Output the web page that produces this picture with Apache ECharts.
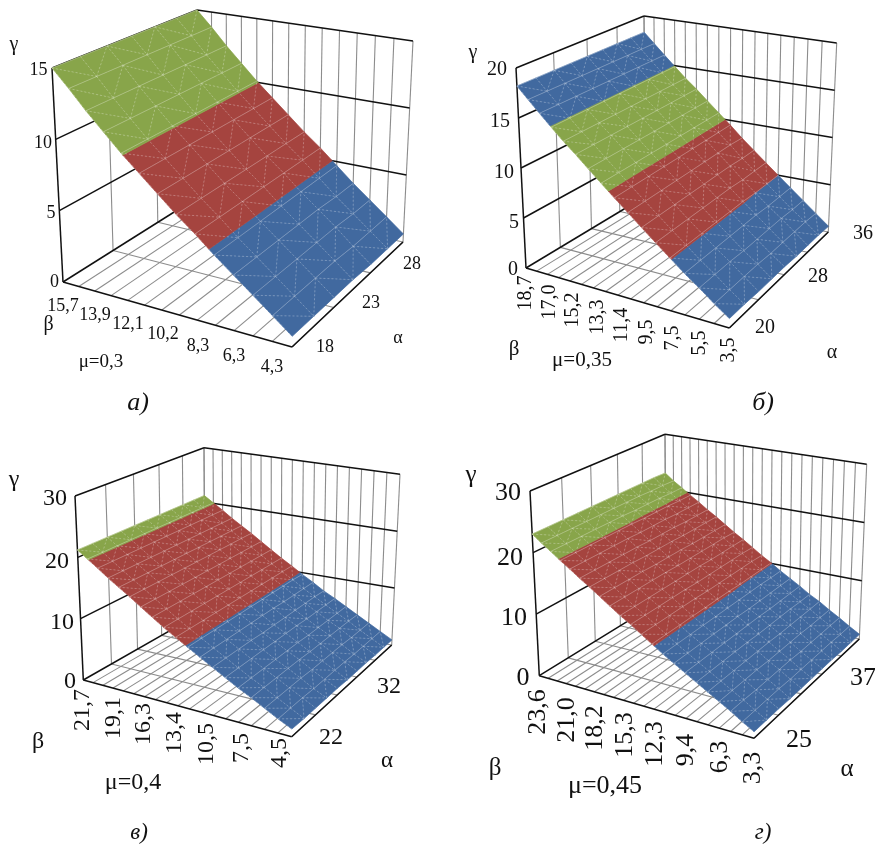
<!DOCTYPE html>
<html><head><meta charset="utf-8">
<style>html,body{margin:0;padding:0;background:#fff}#c{width:875px;height:846px}</style>
<script src="https://cdn.jsdelivr.net/npm/echarts@6/dist/echarts.min.js"></script>
</head><body><div id="c"></div>
<script>
// ---------- data: tick labels ----------
const betaTicksA = ['15,7','13,9','12,1','10,2','8,3','6,3','4,3'];
const betaTicksB = ['18,7','17,0','15,2','13,3','11,4','9,5','7,5','5,5','3,5'];
const betaTicksC = ['21,7','19,1','16,3','13,4','10,5','7,5','4,5'];
const betaTicksD = ['23,6','21,0','18,2','15,3','12,3','9,4','6,3','3,3'];
const alphaTicksA = ['18','23','28'];
const alphaTicksB = ['20','28','36'];
const alphaTicksC = ['22','32'];
const alphaTicksD = ['25','37'];
const gammaTicksA = [0,5,10,15];
const gammaTicksB = [0,5,10,15,20];
const gammaTicksC = [0,10,20,30];
const gammaTicksD = [0,10,20,30];
const muA = 'μ=0,3', muB = 'μ=0,35', muC = 'μ=0,4', muD = 'μ=0,45';
const captionA = 'а)', captionB = 'б)', captionC = 'в)', captionD = 'г)';
// ---------- data: gamma (rows: beta from max to min, columns: alpha from min to max) ----------
const gammaA = [
[15.0,15.0,15.0,15.0,15.0,15.0,15.0],
[13.8,13.8,13.8,13.8,13.8,13.8,13.8],
[12.5,12.5,12.5,12.5,12.5,12.5,12.5],
[11.3,11.3,11.3,11.3,11.3,11.3,11.3],
[10.1,10.1,10.1,10.1,10.1,10.1,10.1],
[9.0,9.0,9.0,9.0,9.0,9.0,9.0],
[7.9,7.9,7.9,7.9,7.9,7.9,7.9],
[6.8,6.8,6.8,6.8,6.8,6.8,6.8],
[5.8,5.8,5.8,5.8,5.8,5.8,5.8],
[4.7,4.7,4.7,4.7,4.7,4.7,4.7],
[3.7,3.7,3.7,3.7,3.7,3.6,3.6],
[2.7,2.7,2.7,2.7,2.7,2.6,2.6],
[1.7,1.7,1.7,1.7,1.6,1.6,1.6],
[0.7,0.7,0.7,0.7,0.6,0.6,0.6]];
const gammaB = [
[18.2,18.2,18.2,18.2,18.2,18.2,18.2,18.2,18.2],
[17.1,17.1,17.1,17.1,17.1,17.1,17.1,17.1,17.1],
[16.0,16.0,16.0,16.0,16.0,16.0,16.0,16.0,16.0],
[14.9,14.9,14.9,14.9,14.9,14.9,14.9,14.9,14.9],
[13.8,13.8,13.8,13.8,13.8,13.8,13.8,13.8,13.8],
[12.8,12.8,12.8,12.8,12.8,12.8,12.8,12.8,12.8],
[11.7,11.7,11.7,11.7,11.7,11.7,11.7,11.7,11.7],
[10.6,10.6,10.6,10.6,10.6,10.6,10.6,10.6,10.6],
[9.5,9.5,9.5,9.5,9.5,9.5,9.5,9.5,9.5],
[8.4,8.4,8.4,8.4,8.4,8.4,8.4,8.4,8.3],
[7.3,7.3,7.3,7.3,7.3,7.3,7.3,7.2,7.2],
[6.2,6.2,6.2,6.2,6.2,6.2,6.1,6.1,6.1],
[5.1,5.1,5.1,5.1,5.1,5.1,5.0,5.0,5.0],
[4.0,4.0,4.0,4.0,4.0,4.0,3.9,3.9,3.9],
[3.0,3.0,3.0,2.9,2.9,2.9,2.9,2.8,2.8],
[1.9,1.9,1.9,1.9,1.8,1.8,1.8,1.8,1.7],
[0.9,0.9,0.8,0.8,0.8,0.7,0.7,0.7,0.6]];
const gammaC = [
[21.2,21.2,21.2,21.2,21.2,21.2,21.2,21.2,21.2,21.2,21.2],
[20.1,20.1,20.1,20.1,20.1,20.1,20.1,20.1,20.1,20.1,20.1],
[19.0,19.0,19.0,19.0,19.0,19.0,19.0,19.0,19.0,19.0,19.0],
[17.8,17.8,17.8,17.8,17.8,17.8,17.8,17.8,17.8,17.8,17.8],
[16.7,16.7,16.7,16.7,16.7,16.7,16.7,16.7,16.7,16.7,16.7],
[15.6,15.6,15.6,15.6,15.6,15.6,15.6,15.6,15.6,15.6,15.6],
[14.4,14.4,14.4,14.4,14.4,14.4,14.4,14.4,14.4,14.4,14.4],
[13.2,13.2,13.2,13.2,13.2,13.2,13.2,13.2,13.2,13.2,13.2],
[12.0,12.0,12.0,12.0,12.0,12.0,12.0,12.0,12.0,12.0,12.0],
[10.9,10.9,10.9,10.9,10.9,10.9,10.9,10.9,10.9,10.9,10.9],
[9.8,9.8,9.8,9.8,9.8,9.8,9.8,9.8,9.8,9.8,9.7],
[8.7,8.7,8.7,8.7,8.7,8.7,8.7,8.6,8.6,8.6,8.6],
[7.6,7.6,7.6,7.6,7.5,7.5,7.5,7.5,7.5,7.5,7.4],
[6.5,6.5,6.5,6.5,6.5,6.5,6.5,6.4,6.4,6.4,6.4],
[5.4,5.4,5.4,5.4,5.4,5.4,5.3,5.3,5.3,5.3,5.3],
[4.4,4.4,4.4,4.4,4.4,4.3,4.3,4.3,4.3,4.3,4.2],
[3.3,3.3,3.3,3.3,3.2,3.2,3.2,3.2,3.1,3.1,3.1],
[2.2,2.2,2.2,2.1,2.1,2.1,2.1,2.0,2.0,2.0,2.0],
[1.2,1.1,1.1,1.1,1.1,1.0,1.0,1.0,0.9,0.9,0.9]];
const gammaD = [
[23.0,23.0,23.0,23.0,23.0,23.0,23.0,23.0,23.0,23.0,22.9],
[21.9,21.9,21.9,21.9,21.9,21.9,21.9,21.9,21.8,21.8,21.7],
[20.9,20.9,20.9,20.9,20.9,20.9,20.8,20.8,20.8,20.7,20.7],
[19.8,19.8,19.8,19.8,19.8,19.8,19.7,19.7,19.7,19.6,19.6],
[18.8,18.8,18.8,18.8,18.8,18.7,18.7,18.7,18.6,18.6,18.6],
[17.7,17.7,17.7,17.7,17.7,17.6,17.6,17.6,17.5,17.5,17.5],
[16.7,16.7,16.7,16.7,16.6,16.6,16.6,16.5,16.5,16.5,16.5],
[15.6,15.6,15.6,15.6,15.5,15.5,15.5,15.4,15.4,15.4,15.4],
[14.5,14.5,14.5,14.5,14.5,14.4,14.4,14.4,14.4,14.4,14.3],
[13.4,13.4,13.4,13.4,13.4,13.4,13.4,13.3,13.3,13.3,13.3],
[12.4,12.4,12.4,12.4,12.4,12.3,12.3,12.3,12.3,12.3,12.2],
[11.3,11.3,11.3,11.3,11.3,11.2,11.2,11.2,11.2,11.2,11.1],
[10.2,10.2,10.2,10.2,10.2,10.2,10.2,10.1,10.1,10.1,10.1],
[9.1,9.1,9.1,9.1,9.1,9.1,9.1,9.1,9.1,9.0,9.0],
[8.1,8.1,8.1,8.1,8.1,8.1,8.0,8.0,8.0,8.0,8.0],
[7.1,7.1,7.1,7.1,7.1,7.1,7.1,7.0,7.0,7.0,7.0],
[6.1,6.1,6.1,6.1,6.1,6.0,6.0,6.0,6.0,5.9,5.9],
[5.1,5.1,5.1,5.1,5.1,5.1,5.0,5.0,5.0,5.0,5.0],
[4.1,4.1,4.1,4.1,4.0,4.0,4.0,4.0,3.9,3.9,3.9],
[3.1,3.1,3.0,3.0,3.0,3.0,2.9,2.9,2.9,2.9,2.9],
[2.0,2.0,2.0,2.0,1.9,1.9,1.9,1.9,1.9,1.8,1.8],
[1.0,1.0,1.0,0.9,0.9,0.9,0.9,0.9,0.8,0.8,0.8]];

// ---------- styling and layout (separate from data) ----------
const COL = {green:'#88A54A', red:'#A5443F', blue:'#41699F'};
const SERIF = '"Liberation Serif","Times New Roman",serif';
const panels = [
 {gamma:gammaA, ticks:gammaTicksA, betaN:13, alphaN:3, top:15, beta:betaTicksA, alpha:alphaTicksA, mu:muA, cap:captionA,
  bands:[[0,5,'blue'],[5,10,'red'],[10,15.01,'green']],
  A:[63,282],B:[292,347],C:[403,242],D:[198,197],A1:[52,68],B1:[296,119],C1:[413,41],D1:[197,10],
  fs:18, gammaPos:[[54.5,282],[51,213],[43,143],[38.5,70]],
  betaPos:[[63,306],[95,315],[128,324],[163,334],[198,346],[234,356],[272,367]], rot:false,
  alphaPos:[[325,347],[371,303],[412,264]], g:[14,45,20], b:[48.5,325,20], a:[398,338,18], m:[101,362,19], c:[138,403,26]},
 {gamma:gammaB, ticks:gammaTicksB, betaN:16, alphaN:4, top:20, beta:betaTicksB, alpha:alphaTicksB, mu:muB, cap:captionB,
  bands:[[0,5,'blue'],[5,10,'red'],[10,15,'green'],[15,20,'blue']],
  A:[526,268],B:[729.3,328],C:[828.3,232],D:[645.7,196],A1:[516,68],B1:[732,119],C1:[836.7,43],D1:[644,16],
  fs:20, gammaPos:[[513,270],[514,223],[504,173],[500,122],[497,70]],
  betaPos:[[526,293],[550,302],[573,310],[598,317],[622,325],[647,332],[673,338],[700,343],[729,350]], rot:true,
  alphaPos:[[765,328],[818,277],[863,234]], g:[473,53,20], b:[514,349,21], a:[832,353,20], m:[582,360,21], c:[763,403,26]},
 {gamma:gammaC, ticks:gammaTicksC, betaN:18, alphaN:5, top:30, beta:betaTicksC, alpha:alphaTicksC, mu:muC, cap:captionC,
  bands:[[0,10,'blue'],[10,20,'red'],[20,30,'green']],
  A:[83.3,680],B:[291.7,736.7],C:[391.7,645],D:[205,610.7],A1:[75,496],B1:[295.2,544.7],C1:[400,474.3],D1:[204,447.7],
  fs:24, gammaPos:[[70,682],[62,623],[57,562],[55,499]],
  betaPos:[[83,710],[114,718],[144,724],[175,733],[207,744],[242,748],[280,753]], rot:true,
  alphaPos:[[331,738],[389,687]], g:[14,480,24], b:[38,742,24], a:[387,761,23], m:[133,783,24], c:[139,833,23]},
 {gamma:gammaD, ticks:gammaTicksD, betaN:21, alphaN:5, top:30, beta:betaTicksD, alpha:alphaTicksD, mu:muD, cap:captionD,
  bands:[[0,10,'blue'],[10,20,'red'],[20,30,'green']],
  A:[539.3,675.7],B:[754,738.3],C:[859.3,639],D:[666,597.7],A1:[530,491],B1:[756.3,542.3],C1:[866.7,464.3],D1:[665,434.3],
  fs:26, gammaPos:[[523,678],[514,618],[510,558],[508,493]],
  betaPos:[[538,712],[567,720],[595,728],[625,735],[655,744],[686,750],[720,757],[753,768]], rot:true,
  alphaPos:[[799,740],[863,678]], g:[471,475,25], b:[495,768,25], a:[847,769,25], m:[605,786,26], c:[763,833,23]}
];

// ---------- square-to-quad projection ----------
function quad(p0,p1,p2,p3){ // (0,0)->p0 (1,0)->p1 (1,1)->p2 (0,1)->p3
  const dx1=p1[0]-p2[0],dx2=p3[0]-p2[0],sx=p0[0]-p1[0]+p2[0]-p3[0];
  const dy1=p1[1]-p2[1],dy2=p3[1]-p2[1],sy=p0[1]-p1[1]+p2[1]-p3[1];
  const den=dx1*dy2-dx2*dy1;
  const g=(sx*dy2-dx2*sy)/den,h=(dx1*sy-sx*dy1)/den;
  const a=p1[0]-p0[0]+g*p1[0],b=p3[0]-p0[0]+h*p3[0],c=p0[0];
  const d=p1[1]-p0[1]+g*p1[1],e=p3[1]-p0[1]+h*p3[1],f=p0[1];
  return (u,v)=>{const w=g*u+h*v+1;return [(a*u+b*v+c)/w,(d*u+e*v+f)/w];};
}
panels.forEach(p=>{
  const lo=quad(p.A,p.B,p.C,p.D), hi=quad(p.A1,p.B1,p.C1,p.D1);
  p.proj=(u,v,z)=>{const a=lo(u,v),b=hi(u,v),t=z/p.top;return [a[0]+(b[0]-a[0])*t,a[1]+(b[1]-a[1])*t];};
});

// clip a polygon of [u,v,z] to lo<=z<=hi
function clip(poly,lo,hi){
  const cut=(pts,lim,keep)=>{const out=[];
    for(let i=0;i<pts.length;i++){const a=pts[i],b=pts[(i+1)%pts.length];
      const ia=keep(a[2]),ib=keep(b[2]);
      if(ia)out.push(a);
      if(ia!==ib){const t=(lim-a[2])/(b[2]-a[2]);out.push([a[0]+(b[0]-a[0])*t,a[1]+(b[1]-a[1])*t,lim]);}
    }return out;};
  let r=cut(poly,lo,z=>z>=lo); if(r.length) r=cut(r,hi,z=>z<=hi); return r;
}

// ---------- build marks per panel ----------
const series=[];
panels.forEach(p=>{
  const P=p.proj, nb=p.gamma.length, na=p.gamma[0].length;
  const lines=[];
  const gray={stroke:'#8c8c8c',lineWidth:1.1}, black={stroke:'#111',lineWidth:1.5};
  const seg=(a,b,s)=>lines.push({a,b,s});
  for(let i=0;i<=p.betaN;i++){const u=i/p.betaN;
    if(i>0) seg(P(u,0,0),P(u,1,0),gray);
    seg(P(u,1,0),P(u,1,p.top),gray);}
  for(let j=1;j<=p.alphaN;j++){const v=j/p.alphaN;
    seg(P(0,v,0),P(1,v,0),gray);
    seg(P(0,v,0),P(0,v,p.top),gray);}
  p.ticks.forEach((t,k)=>{ if(k===0) return;
    seg(P(0,0,t),P(0,1,t),black); seg(P(0,1,t),P(1,1,t),black);});
  seg(P(0,0,0),P(0,0,p.top),black);
  seg(P(0,0,0),P(1,0,0),black); seg(P(1,0,0),P(1,1,0),black); seg(P(0,0,0),P(0,1,0),black);
  series.push({type:'custom',coordinateSystem:'cartesian2d',silent:true,animation:false,clip:false,
    data:lines.map(l=>[l.a[0],l.a[1],l.b[0],l.b[1]]),
    renderItem:(par,api)=>{const l=lines[par.dataIndex],a=api.coord(l.a),b=api.coord(l.b);
      return {type:'line',shape:{x1:a[0],y1:a[1],x2:b[0],y2:b[1]},style:{stroke:l.s.stroke,lineWidth:l.s.lineWidth}};}});
  const polys=[], mesh=[];
  const uOf=i=>i/(nb-1), vOf=j=>j/(na-1);
  for(let i=0;i<nb-1;i++)for(let j=0;j<na-1;j++){
    const q00=[uOf(i),vOf(j),p.gamma[i][j]],q10=[uOf(i+1),vOf(j),p.gamma[i+1][j]],
          q11=[uOf(i+1),vOf(j+1),p.gamma[i+1][j+1]],q01=[uOf(i),vOf(j+1),p.gamma[i][j+1]];
    const diag=j%2===0;
    const tris=diag?[[q00,q10,q11],[q00,q11,q01]]:[[q00,q10,q01],[q10,q11,q01]];
    tris.forEach(t=>p.bands.forEach(b=>{const r=clip(t,b[0],b[1]);
      if(r.length>=3) polys.push({pts:r.map(o=>P(o[0],o[1],o[2])),c:COL[b[2]]});}));
    mesh.push({a:P(q00[0],q00[1],q00[2]),b:P(q01[0],q01[1],q01[2]),dash:null});
    mesh.push({a:P(q00[0],q00[1],q00[2]),b:P(q10[0],q10[1],q10[2]),dash:[2,2]});
    if(diag) mesh.push({a:P(q00[0],q00[1],q00[2]),b:P(q11[0],q11[1],q11[2]),dash:[2,2]});
    else mesh.push({a:P(q10[0],q10[1],q10[2]),b:P(q01[0],q01[1],q01[2]),dash:[2,2]});
  }
  series.push({type:'custom',coordinateSystem:'cartesian2d',silent:true,animation:false,clip:false,
    data:polys.map(o=>[o.pts[0][0],o.pts[0][1]]),
    renderItem:(par,api)=>{const o=polys[par.dataIndex];
      return {type:'polygon',shape:{points:o.pts.map(q=>api.coord(q))},style:{fill:o.c,stroke:o.c,lineWidth:0.7}};}});
  series.push({type:'custom',coordinateSystem:'cartesian2d',silent:true,animation:false,clip:false,
    data:mesh.map(o=>[o.a[0],o.a[1]]),
    renderItem:(par,api)=>{const m=mesh[par.dataIndex],a=api.coord(m.a),b=api.coord(m.b);
      return {type:'line',shape:{x1:a[0],y1:a[1],x2:b[0],y2:b[1]},
        style:{stroke:'rgba(255,255,255,0.34)',lineWidth:0.8,lineDash:m.dash||undefined}};}});
  const texts=[];
  const tx=(s,pos,size,opt)=>texts.push(Object.assign({s,x:pos[0],y:pos[1],size},opt||{}));
  p.ticks.forEach((t,k)=>tx(String(t),p.gammaPos[k],p.fs));
  p.beta.forEach((t,k)=>tx(t,p.betaPos[k],p.fs,{rot:p.rot}));
  p.alpha.forEach((t,k)=>tx(t,p.alphaPos[k],p.fs));
  tx('γ',p.g,p.g[2]); tx('β',p.b,p.b[2]); tx('α',p.a,p.a[2]); tx(p.mu,p.m,p.m[2]);
  tx(p.cap,p.c,p.c[2],{ital:true});
  series.push({type:'custom',coordinateSystem:'cartesian2d',silent:true,animation:false,clip:false,
    data:texts.map(o=>[o.x,o.y]),
    renderItem:(par,api)=>{const o=texts[par.dataIndex],c=api.coord([o.x,o.y]);
      return {type:'text',x:c[0],y:c[1],rotation:o.rot?Math.PI/2:0,
        style:{text:o.s,fill:'#111',align:'center',verticalAlign:'middle',
          font:(o.ital?'italic ':'')+o.size+'px '+SERIF}};}});
});

const chart=echarts.init(document.getElementById('c'),null,{width:875,height:846});
chart.setOption({animation:false,
  grid:{left:0,right:0,top:0,bottom:0},
  xAxis:{type:'value',min:0,max:875,show:false},
  yAxis:{type:'value',min:0,max:846,inverse:true,show:false},
  series});
</script></body></html>
